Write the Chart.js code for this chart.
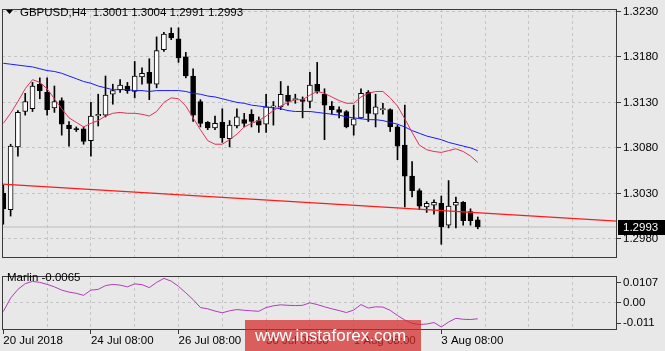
<!DOCTYPE html>
<html>
<head>
<meta charset="utf-8">
<script src="https://cdn.jsdelivr.net/npm/chart.js@4.4.1/dist/chart.umd.min.js"></script>
<style>
  html, body { margin: 0; padding: 0; background: #e8e8e8; }
  #wrap { position: relative; width: 665px; height: 351px; overflow: hidden; }
  canvas { position: absolute; left: 0; }
  #price { top: 0; }
  #marlin { top: 267px; }
</style>
</head>
<body>
<div id="wrap">
  <canvas id="price" width="665" height="267"></canvas>
  <canvas id="marlin" width="665" height="84"></canvas>
</div>
<script>
// GBPUSD H4 candles, 20 Jul 2018 08:00 -> 3 Aug 2018
const opens = [1.3030,1.3012,1.3081,1.3120,1.3123,1.3150,1.3141,1.3124,1.3132,1.3105,
  1.3101,1.3101,1.3088,1.3115,1.3116,1.3139,1.3144,1.3148,1.3142,1.3158,
  1.3163,1.3150,1.3188,1.3206,1.3200,1.3180,1.3159,1.3131,1.3108,1.3102,
  1.3108,1.3090,1.3104,1.3111,1.3117,1.3110,1.3106,1.3125,1.3125,1.3138,
  1.3133,1.3133,1.3131,1.3150,1.3139,1.3126,1.3122,1.3120,1.3105,1.3113,
  1.3141,1.3117,1.3122,1.3122,1.3103,1.3083,1.3049,1.3033,1.3015,1.3017,
  1.3019,1.2995,1.3017,1.3020,1.3010,1.3001];
const highs = [1.3039,1.3084,1.3121,1.3140,1.3152,1.3157,1.3157,1.3148,1.3135,1.3109,
  1.3103,1.3103,1.3130,1.3139,1.3159,1.3150,1.3155,1.3152,1.3175,1.3168,
  1.3178,1.3202,1.3207,1.3212,1.3212,1.3185,1.3167,1.3133,1.3109,1.3115,
  1.3123,1.3110,1.3123,1.3118,1.3122,1.3114,1.3139,1.3131,1.3153,1.3148,
  1.3139,1.3136,1.3163,1.3174,1.3145,1.3131,1.3125,1.3121,1.3127,1.3145,
  1.3143,1.3139,1.3129,1.3123,1.3105,1.3127,1.3065,1.3035,1.3021,1.3023,
  1.3027,1.3044,1.3026,1.3021,1.3013,1.3004];
const lows = [1.2996,1.3005,1.3071,1.3116,1.3120,1.3134,1.3116,1.3119,1.3094,1.3082,
  1.3098,1.3084,1.3071,1.3104,1.3114,1.3128,1.3141,1.3140,1.3135,1.3150,
  1.3133,1.3146,1.3186,1.3199,1.3174,1.3157,1.3109,1.3103,1.3100,1.3100,
  1.3086,1.3081,1.3102,1.3103,1.3103,1.3097,1.3097,1.3105,1.3122,1.3127,
  1.3129,1.3113,1.3124,1.3140,1.3089,1.3117,1.3113,1.3102,1.3094,1.3112,
  1.3109,1.3103,1.3117,1.3098,1.3067,1.3015,1.3026,1.3012,1.3009,1.3007,
  1.2974,1.2992,1.2992,1.2995,1.2995,1.2991];
const closes = [1.3013,1.3082,1.3119,1.3131,1.3148,1.3143,1.3122,1.3131,1.3106,1.3101,
  1.3100,1.3087,1.3115,1.3117,1.3138,1.3143,1.3149,1.3143,1.3159,1.3162,
  1.3151,1.3187,1.3205,1.3201,1.3179,1.3159,1.3116,1.3107,1.3102,1.3107,
  1.3091,1.3105,1.3114,1.3107,1.3109,1.3105,1.3125,1.3126,1.3139,1.3131,
  1.3133,1.3131,1.3149,1.3142,1.3127,1.3122,1.3119,1.3103,1.3112,1.3140,
  1.3118,1.3125,1.3123,1.3103,1.3082,1.3049,1.3033,1.3016,1.3019,1.3020,
  1.2993,1.3016,1.3020,1.3000,1.3000,1.2993];

// moving averages
const slowMA = [1.3173,1.3172,1.3171,1.3170,1.3169,1.3167,1.3165,1.3164,1.3162,1.3159,
  1.3156,1.3153,1.3151,1.3148,1.3146,1.3144,1.3144,1.3144,1.3143,1.3143,
  1.3142,1.3143,1.3143,1.3143,1.3143,1.3142,1.3140,1.3139,1.3137,1.3136,
  1.3134,1.3132,1.3130,1.3129,1.3127,1.3126,1.3125,1.3124,1.3123,1.3121,
  1.3120,1.3120,1.3120,1.3119,1.3118,1.3117,1.3116,1.3114,1.3113,1.3112,
  1.3111,1.3111,1.3110,1.3108,1.3106,1.3103,1.3099,1.3096,1.3093,1.3091,
  1.3089,1.3086,1.3084,1.3082,1.3080,1.3077];
const fastMA = [1.3107,1.3118,1.3131,1.3145,1.3155,1.3152,1.3145,1.3134,1.3123,1.3113,
  1.3108,1.3103,1.3107,1.3110,1.3115,1.3118,1.3119,1.3118,1.3118,1.3117,
  1.3115,1.3120,1.3130,1.3135,1.3134,1.3126,1.3113,1.3100,1.3088,1.3084,
  1.3084,1.3089,1.3095,1.3103,1.3107,1.3110,1.3115,1.3121,1.3126,1.3130,
  1.3133,1.3133,1.3138,1.3142,1.3140,1.3136,1.3132,1.3129,1.3129,1.3136,
  1.3140,1.3142,1.3142,1.3135,1.3126,1.3112,1.3097,1.3083,1.3078,1.3076,
  1.3075,1.3077,1.3079,1.3076,1.3071,1.3064];

// Marlin oscillator
const marlin = [-0.0036,0.0018,0.0053,0.0076,0.0085,0.0081,0.0073,0.0063,0.0050,0.0042,
  0.0037,0.0029,0.0050,0.0053,0.0068,0.0073,0.0070,0.0063,0.0075,0.0072,
  0.0060,0.0081,0.0097,0.0086,0.0065,0.0039,0.0012,-0.0020,-0.0025,-0.0034,
  -0.0041,-0.0033,-0.0028,-0.0031,-0.0033,-0.0035,-0.0020,-0.0013,-0.0009,-0.0011,
  -0.0012,-0.0011,-0.0001,-0.0008,-0.0017,-0.0025,-0.0032,-0.0040,-0.0030,-0.0008,
  -0.0022,-0.0017,-0.0018,-0.0031,-0.0052,-0.0070,-0.0083,-0.0088,-0.0086,-0.0080,
  -0.0098,-0.0078,-0.0063,-0.0067,-0.0068,-0.0065];

// trend line anchors (bar index, price)
const trendBars = [-1, 85];
const trendPrices = [1.30405, 1.29990];
const bidPrice = 1.2993;

const priceTicks = [1.2980, 1.3030, 1.3080, 1.3130, 1.3180, 1.3230];
const marlinTickLabels = ['0.0107', '0.00', '-0.011'];
const dateLabels = ['20 Jul 2018', '24 Jul 08:00', '26 Jul 08:00', '30 Jul 08:00', '1 Aug 08:00', '3 Aug 08:00'];
const titleText = 'GBPUSD,H4  1.3001 1.3004 1.2991 1.2993';
const marlinText = 'Marlin -0.0065';

const xMin = -0.18, xMax = 84.07;
const gridBars = [];
for (let b = 0; b <= 84; b += 6) gridBars.push(b);

const FONT = "'Liberation Sans', Arial, sans-serif";
Chart.defaults.font.family = FONT;
Chart.defaults.font.size = 11.5;
Chart.defaults.color = '#000';

const gridColor = '#c4c4c4';

// panel frame
const frame = {
    id: 'frame',
    afterDraw(chart) {
        const { ctx, chartArea: a } = chart;
        ctx.save();
        ctx.strokeStyle = '#3a3a3a';
        ctx.lineWidth = 1;
        ctx.strokeRect(Math.round(a.left) + 0.5, Math.round(a.top) + 0.5,
            Math.round(a.width) - 1, Math.round(a.height) - 1);
        ctx.restore();
    }
};

const priceOverlay = {
    id: 'priceOverlay',
    afterDraw(chart) {
        const { ctx } = chart;
        const y = Math.round(chart.scales.y.getPixelForValue(bidPrice));
        ctx.save();
        ctx.fillStyle = '#000';
        ctx.fillRect(618, y - 7, 47, 15);
        ctx.fillStyle = '#fff';
        ctx.font = '11.5px ' + FONT;
        ctx.textBaseline = 'middle';
        ctx.fillText(bidPrice.toFixed(4), 623, y + 1);
        // title
        ctx.fillStyle = '#000';
        ctx.beginPath();
        ctx.moveTo(6, 10);
        ctx.lineTo(13, 10);
        ctx.lineTo(9.5, 14);
        ctx.closePath();
        ctx.fill();
        ctx.fillText(titleText, 20, 12.5);
        ctx.restore();
    }
};

const marlinOverlay = {
    id: 'marlinOverlay',
    afterDraw(chart) {
        const { ctx } = chart;
        ctx.save();
        ctx.fillStyle = '#000';
        ctx.font = '11.5px ' + FONT;
        ctx.textBaseline = 'middle';
        ctx.fillText(marlinText, 7, 10.5);
        // site watermark
        ctx.fillStyle = 'rgba(214, 40, 40, 0.72)';
        ctx.fillRect(245, 53, 176, 31);
        ctx.fillStyle = '#fff';
        ctx.font = '17px ' + FONT;
        ctx.fillText('www.instaforex.com', 255, 69);
        ctx.restore();
    }
};

const idx = opens.map((o, i) => i);
const wickData = idx.map(i => ({ x: i, y: [lows[i], highs[i]] }));
const bodyData = idx.map(i => ({ x: i, y: [Math.min(opens[i], closes[i]), Math.max(opens[i], closes[i])] }));
const bodyFill = idx.map(i => closes[i] >= opens[i] ? '#ffffff' : '#000000');

new Chart(document.getElementById('price'), {
    type: 'bar',
    data: {
        datasets: [
            {
                type: 'line', label: 'fast', order: 0,
                data: idx.map(i => ({ x: i, y: fastMA[i] })),
                borderColor: '#e0315a', borderWidth: 1, pointRadius: 0, tension: 0
            },
            {
                type: 'line', label: 'slow', order: 0,
                data: idx.map(i => ({ x: i, y: slowMA[i] })),
                borderColor: '#1a1aff', borderWidth: 1, pointRadius: 0, tension: 0
            },
            {
                type: 'line', label: 'trend', order: 0,
                data: trendBars.map((b, k) => ({ x: b, y: trendPrices[k] })),
                borderColor: '#ff1a1a', borderWidth: 1.3, pointRadius: 0
            },
            {
                label: 'body', order: 1, grouped: false,
                data: bodyData,
                backgroundColor: bodyFill, borderColor: '#000', borderWidth: 1,
                borderSkipped: false, barThickness: 5, minBarLength: 1
            },
            {
                label: 'wick', order: 2, grouped: false,
                data: wickData,
                backgroundColor: '#000', barThickness: 1
            },
            {
                type: 'line', label: 'bid', order: 3,
                data: [{ x: xMin - 1, y: bidPrice }, { x: xMax + 1, y: bidPrice }],
                borderColor: '#bdbdbd', borderWidth: 1, pointRadius: 0
            }
        ]
    },
    options: {
        animation: false, responsive: false, events: [],
        layout: { padding: { left: 2, top: 2, right: 0, bottom: 1 } },
        plugins: { legend: { display: false }, tooltip: { enabled: false } },
        scales: {
            x: {
                type: 'linear', min: xMin, max: xMax, offset: false,
                afterBuildTicks: s => { s.ticks = gridBars.filter(b => b > 0).map(v => ({ value: v })); },
                ticks: { display: false },
                grid: { color: gridColor, drawTicks: false, offset: false },
                border: { display: false, dash: [3, 3] },
                afterFit: s => { s.height = 0; }
            },
            y: {
                position: 'right', min: 1.29588, max: 1.32328,
                afterBuildTicks: s => { s.ticks = priceTicks.map(v => ({ value: v })); },
                ticks: { padding: 2, callback: v => v.toFixed(4) },
                grid: { color: gridColor, tickColor: '#3a3a3a', tickLength: 4, tickBorderDash: [] },
                border: { display: false, dash: [3, 3] },
                afterFit: s => { s.width = 48; }
            }
        }
    },
    plugins: [frame, priceOverlay]
});

const marlinMin = -0.011, marlinMax = 0.0107;
const labelInset = 0.0028;

new Chart(document.getElementById('marlin'), {
    type: 'line',
    data: {
        datasets: [{
            data: idx.map(i => ({ x: i, y: marlin[i] })),
            borderColor: '#b03cb8', borderWidth: 1, pointRadius: 0, tension: 0
        }]
    },
    options: {
        animation: false, responsive: false, events: [],
        layout: { padding: { left: 2, top: 1, right: 0, bottom: 0 } },
        plugins: { legend: { display: false }, tooltip: { enabled: false } },
        scales: {
            x: {
                type: 'linear', min: xMin, max: xMax, offset: false,
                afterBuildTicks: s => { s.ticks = gridBars.map(v => ({ value: v })); },
                ticks: {
                    autoSkip: false, maxRotation: 0, minRotation: 0, align: 'start', padding: 0,
                    callback: v => (v % 12 === 0 && dateLabels[v / 12]) ? dateLabels[v / 12] : ''
                },
                grid: {
                    color: c => (c.tick && c.tick.value === 0) ? 'rgba(0,0,0,0)' : gridColor,
                    tickColor: c => (c.tick && c.tick.value % 12 === 0 && dateLabels[c.tick.value / 12]) ? '#3a3a3a' : 'rgba(0,0,0,0)',
                    tickLength: 4, tickBorderDash: []
                },
                border: { display: false, dash: [3, 3] },
                afterFit: s => { s.height = 21; }
            },
            y: {
                position: 'right', min: marlinMin, max: marlinMax,
                afterBuildTicks: s => {
                    s.ticks = [marlinMax - labelInset, 0, marlinMin + labelInset].map(v => ({ value: v }));
                },
                ticks: { padding: 2, callback: (v, i) => marlinTickLabels[i] },
                grid: {
                    color: c => (c.tick && c.tick.value === 0) ? gridColor : 'rgba(0,0,0,0)',
                    tickColor: '#3a3a3a', tickLength: 4, tickBorderDash: []
                },
                border: { display: false, dash: [3, 3] },
                afterFit: s => { s.width = 48; }
            }
        }
    },
    plugins: [frame, marlinOverlay]
});
</script>
</body>
</html>
